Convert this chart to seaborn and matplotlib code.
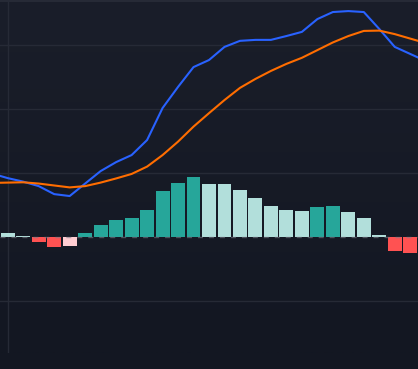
import numpy as np
import pandas as pd
import matplotlib
matplotlib.use("Agg")
import matplotlib.pyplot as plt
from matplotlib.colors import LinearSegmentedColormap
import seaborn as sns

# Histograma MACD (uma barra por candle)
bar_idx = list(range(27))
hist = [0.125, 0.03, -0.15, -0.30, -0.29, 0.125, 0.375, 0.53, 0.59, 0.84,
        1.44, 1.69, 1.875, 1.66, 1.65, 1.47, 1.22, 0.97, 0.84, 0.81,
        0.94, 0.97, 0.78, 0.59, 0.06, -0.44, -0.50]

# Linhas MACD e sinal (um ponto a mais de cada lado, cortado pela borda)
line_idx = list(range(-1, 28))
macd = [1.98, 1.84, 1.73, 1.59, 1.34, 1.28, 1.67, 2.06, 2.34, 2.56, 3.03,
        4.03, 4.69, 5.31, 5.53, 5.94, 6.13, 6.16, 6.16, 6.28, 6.41,
        6.81, 7.03, 7.06, 7.03, 6.50, 5.94, 5.72, 5.50]
signal = [1.69, 1.70, 1.71, 1.67, 1.61, 1.55, 1.59, 1.70, 1.83, 1.97, 2.20,
          2.56, 2.98, 3.45, 3.87, 4.28, 4.66, 4.94, 5.19, 5.41, 5.60,
          5.84, 6.08, 6.28, 6.44, 6.45, 6.34, 6.20, 6.06]

bg_top = '#1a1e2a'
bg_bottom = '#131722'
grid_color = '#262a36'

# cor de cada barra: subindo/caindo acima ou abaixo de zero
palette = {}
prev = None
for i, h in zip(bar_idx, hist):
    if h >= 0:
        palette[i] = '#26a69a' if (prev is not None and h > prev) else '#b2dfdb'
    else:
        palette[i] = '#ff5252' if (prev is None or h < prev) else '#ffcdd2'
    prev = h

hist_df = pd.DataFrame({'idx': bar_idx, 'hist': hist})
lines_df = pd.DataFrame({'idx': line_idx, 'macd': macd, 'signal': signal})

fig = plt.figure(figsize=(4.18, 3.69), dpi=100, facecolor=bg_bottom)
ax = fig.add_axes([0, 16 / 369, 1, 352 / 369])

# fundo em degradê
cmap = LinearSegmentedColormap.from_list('bg', [bg_bottom, bg_top])
ax.imshow(np.linspace(1, 0, 256).reshape(-1, 1), cmap=cmap, aspect='auto',
          extent=[0, 1, 0, 1], transform=ax.transAxes, zorder=-10)

sns.barplot(data=hist_df, x='idx', y='hist', hue='idx', palette=palette,
            legend=False, width=0.9, native_scale=True, saturation=1,
            linewidth=0, ax=ax, zorder=2)

sns.lineplot(data=lines_df, x='idx', y='macd', color='#2962ff', linewidth=1.5, ax=ax, zorder=4)
sns.lineplot(data=lines_df, x='idx', y='signal', color='#ff6d00', linewidth=1.5, ax=ax, zorder=4)

# grade
for v in [-2, 2, 4, 6]:
    ax.axhline(v, color=grid_color, linewidth=1, zorder=0)
ax.axvline(0, color=grid_color, linewidth=1, zorder=0)
ax.axhline(0, color='#787b86', alpha=0.6, linewidth=1, linestyle=(0, (3.6, 4.3)), zorder=5)

ax.set_xlim(-0.5, 26.5)
ax.set_ylim(-3.625, 7.375)
ax.set_xticks([])
ax.set_yticks([])
ax.set_xlabel('')
ax.set_ylabel('')
for side in ['left', 'right', 'bottom']:
    ax.spines[side].set_visible(False)
ax.spines['top'].set_color(grid_color)
ax.spines['top'].set_linewidth(1.5)

fig.savefig('out.png', dpi=100, facecolor=bg_bottom)
